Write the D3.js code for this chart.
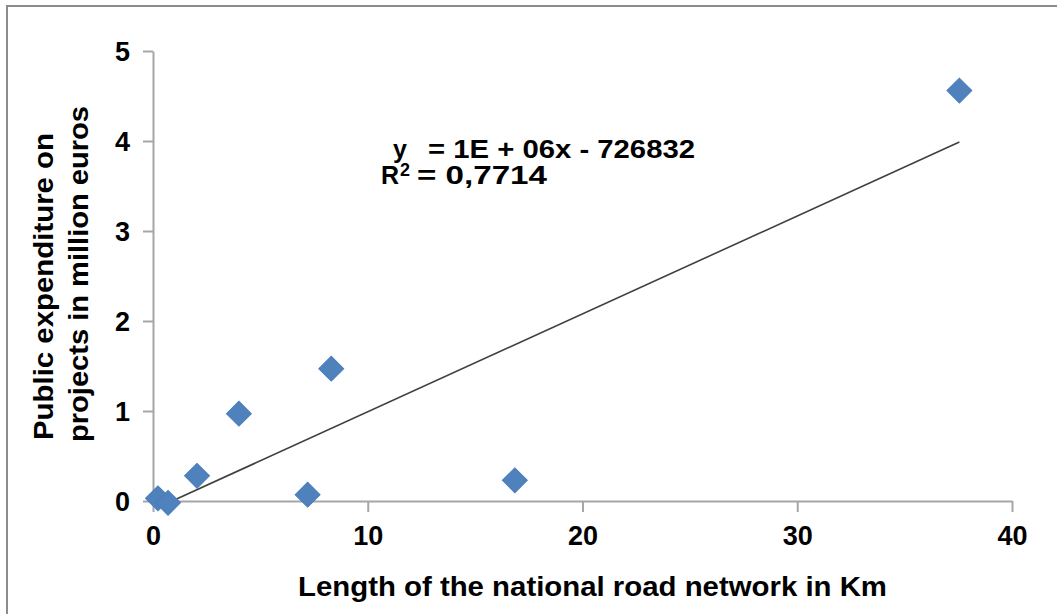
<!DOCTYPE html>
<html>
<head>
<meta charset="utf-8">
<script src="https://cdn.jsdelivr.net/npm/d3@7"></script>
<style>
  body { margin: 0; background: #fff; }
  svg { display: block; font-family: "Liberation Sans", Arial, sans-serif; font-weight: bold; }
</style>
</head>
<body>
<svg id="chart" width="1057" height="614"></svg>
<script>
// values
var lengthKm    = [0.23, 0.70, 2.05, 4.0, 7.2, 8.3, 16.85, 37.55];
var expenditure = [0.03, -0.02, 0.28, 0.97, 0.07, 1.47, 0.23, 4.56];
var xTicks = [0, 10, 20, 30, 40];
var yTicks = [0, 1, 2, 3, 4, 5];
var xTitle = "Length of the national road network in Km";
var yTitleLines = ["Public expenditure on", "projects in million euros"];
var eqLine1 = ["y", "= 1E + 06x - 726832"];
var eqLine2 = ["R", "2", "= 0,7714"];

var svg = d3.select("#chart");
var W = 1057, H = 614;

// outer chart border (cut off at right / bottom like the source)
svg.append("rect").attr("x", 7).attr("y", 6).attr("width", W + 20).attr("height", H + 20)
  .attr("fill", "#fff").attr("stroke", "#8c8c8c").attr("stroke-width", 2);

var xscale = d3.scaleLinear().domain([0, 40]).range([153, 1012]);
var yscale = d3.scaleLinear().domain([0, 5]).range([501, 51]);

var axisColor = "#a6a6a6";

var xAxis = d3.axisBottom(xscale).tickValues(xTicks).tickFormat(d3.format("d"))
  .tickSizeInner(11).tickSizeOuter(0).tickPadding(14);
var yAxis = d3.axisLeft(yscale).tickValues(yTicks).tickFormat(d3.format("d"))
  .tickSizeInner(10).tickSizeOuter(0).tickPadding(13);

var gx = svg.append("g").attr("transform", "translate(0," + yscale(0) + ")").call(xAxis);
var gy = svg.append("g").attr("transform", "translate(" + xscale(0) + ",0)").call(yAxis);

[gx, gy].forEach(function(g) {
  g.select(".domain").attr("stroke", axisColor).attr("stroke-width", 2);
  g.selectAll(".tick line").attr("stroke", axisColor).attr("stroke-width", 2);
  g.selectAll(".tick text").attr("fill", "#000").style("font-size", "27px")
    .style("font-family", "'Liberation Sans', Arial, sans-serif").style("font-weight", "bold");
});
gx.selectAll(".tick text").attr("dy", "0.71em");
gy.selectAll(".tick text").attr("dy", "0.36em");

// linear trend line from least squares on the data
var pts = lengthKm.map(function(x, i) { return {x: x, y: expenditure[i]}; });
var mx = d3.mean(pts, d => d.x), my = d3.mean(pts, d => d.y);
var sxy = d3.sum(pts, d => (d.x - mx) * (d.y - my));
var sxx = d3.sum(pts, d => (d.x - mx) * (d.x - mx));
var slope = sxy / sxx, icpt = my - slope * mx;
var ext = d3.extent(lengthKm);
svg.append("line")
  .attr("x1", xscale(ext[0])).attr("y1", yscale(icpt + slope * ext[0]))
  .attr("x2", xscale(ext[1])).attr("y2", yscale(icpt + slope * ext[1]))
  .attr("stroke", "#404040").attr("stroke-width", 1.6);

// diamond markers
var diamond = d3.symbol().type(d3.symbolSquare).size(310);
svg.append("g").selectAll("path").data(pts).enter().append("path")
  .attr("d", diamond)
  .attr("transform", d => "translate(" + xscale(d.x) + "," + yscale(d.y) + ") rotate(45)")
  .attr("fill", "#4f81bd")
  .attr("stroke", "#4a7ebb").attr("stroke-width", 1);

// equation
var eq = svg.append("g").style("font-size", "25px");
eq.append("text").attr("x", 393).attr("y", 158).text(eqLine1[0]);
eq.append("text").attr("x", 428).attr("y", 158)
  .attr("textLength", 267).attr("lengthAdjust", "spacingAndGlyphs").text(eqLine1[1]);
eq.append("text").attr("x", 381).attr("y", 184).text(eqLine2[0]);
eq.append("text").attr("x", 400).attr("y", 176).style("font-size", "18px").text(eqLine2[1]);
eq.append("text").attr("x", 417).attr("y", 184)
  .attr("textLength", 130).attr("lengthAdjust", "spacingAndGlyphs").text(eqLine2[2]);

// axis titles
svg.append("text").attr("x", 298).attr("y", 596)
  .attr("textLength", 589).attr("lengthAdjust", "spacingAndGlyphs")
  .style("font-size", "27px").text(xTitle);

var ytLen = [307, 336];
var yt = svg.append("text").attr("transform", "translate(53,440) rotate(-90)")
  .style("font-size", "27px");
yTitleLines.forEach(function(s, i) {
  yt.append("tspan").attr("x", i * -2).attr("y", i * 35)
    .attr("textLength", ytLen[i]).attr("lengthAdjust", "spacingAndGlyphs").text(s);
});
</script>
</body>
</html>
